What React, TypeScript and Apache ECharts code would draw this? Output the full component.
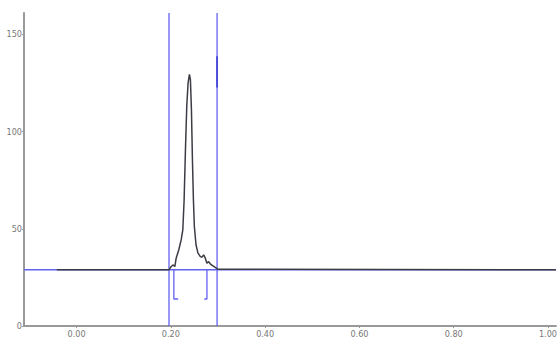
import React, { useEffect, useRef } from "react";
import * as echarts from "echarts";

const xMin = -0.1116;
const xMax = 1.0168;
const yMin = 0;
const yMax = 161;
const xTickValues = [0, 0.2, 0.4, 0.6, 0.8, 1.0];
const yTickValues = [0, 50, 100, 150];

const baselineValue = 28.9;
const markerX = [0.196, 0.298];

const traceX = [
  -0.042, 0.1958, 0.2007, 0.2049, 0.2084, 0.2112, 0.2168, 0.2218, 0.2253, 0.2281,
  0.2309, 0.2337, 0.2365, 0.2393, 0.2414, 0.2436, 0.2457, 0.2478, 0.2498, 0.2533,
  0.2575, 0.2625, 0.266, 0.2695, 0.273, 0.2765, 0.28, 0.2835, 0.2884, 0.2941,
  0.2996, 1.0168,
];
const traceY = [
  28.9, 28.9, 30.6, 31.4, 30.6, 34.9, 39.2, 44.3, 49.5, 64.9,
  90.7, 113, 125.1, 129.4, 126.8, 111.3, 85.6, 64.9, 51.2, 41.8,
  37.5, 35.7, 35.4, 36.6, 34.9, 32.3, 33.1, 32, 31.1, 30.1,
  29.2, 28.9,
];

const leftBracketX = [0.2063, 0.2063, 0.2154];
const leftBracketY = [28.9, 13.9, 13.9];
const rightBracketX = [0.2765, 0.2765, 0.2709];
const rightBracketY = [28.9, 13.9, 13.9];

const flagX = [0.298, 0.298];
const flagY = [122.7, 138.7];

const zip = (xs: number[], ys: number[]) => xs.map((x, i) => [x, ys[i]]);

export default function App() {
  const ref = useRef<HTMLDivElement>(null);
  useEffect(() => {
    if (!ref.current) return;
    const chart = echarts.init(ref.current, undefined, { renderer: "svg" });
    const blue = "#6262f2";
    const labelFont = {
      fontFamily: "'Liberation Sans Narrow', 'DejaVu Sans Condensed', 'Liberation Sans', Arial, sans-serif",
      fontSize: 9,
      color: "#777",
    };
    const lineSeries = (data: number[][], color: string, width: number, z: number) => ({
      type: "line",
      data,
      showSymbol: false,
      symbol: "none",
      lineStyle: { color, width },
      z,
      silent: true,
    });
    chart.setOption({
      animation: false,
      grid: { left: 24, right: 0, top: 13, bottom: 16, containLabel: false },
      xAxis: {
        type: "value",
        min: xMin,
        max: xMax,
        axisLine: { show: true, onZero: false, lineStyle: { color: "#999", width: 2 } },
        axisTick: { show: true, length: 2, customValues: xTickValues, lineStyle: { color: "#999" } },
        axisLabel: {
          ...labelFont,
          customValues: xTickValues,
          margin: 3,
          formatter: (v: number) => v.toFixed(2),
        },
        splitLine: { show: false },
      },
      yAxis: {
        type: "value",
        min: yMin,
        max: yMax,
        axisLine: { show: true, onZero: false, lineStyle: { color: "#999", width: 2 } },
        axisTick: { show: true, length: 2, customValues: yTickValues, lineStyle: { color: "#999" } },
        axisLabel: { ...labelFont, customValues: yTickValues, margin: 2 },
        splitLine: { show: false },
      },
      series: [
        lineSeries([[xMin, baselineValue], [xMax, baselineValue]], blue, 1.5, 1),
        lineSeries([[markerX[0], yMin], [markerX[0], yMax]], blue, 1.3, 2),
        lineSeries([[markerX[1], yMin], [markerX[1], yMax]], blue, 1.3, 2),
        lineSeries(zip(leftBracketX, leftBracketY), blue, 1.3, 2),
        lineSeries(zip(rightBracketX, rightBracketY), blue, 1.3, 2),
        lineSeries(zip(flagX, flagY), "#4646d8", 1.8, 3),
        lineSeries(zip(traceX, traceY), "#3c3c44", 1.5, 4),
      ],
    });
    return () => chart.dispose();
  }, []);
  return <div ref={ref} style={{ width: 560, height: 342, position: "absolute", left: 0, top: 0 }} />;
}
